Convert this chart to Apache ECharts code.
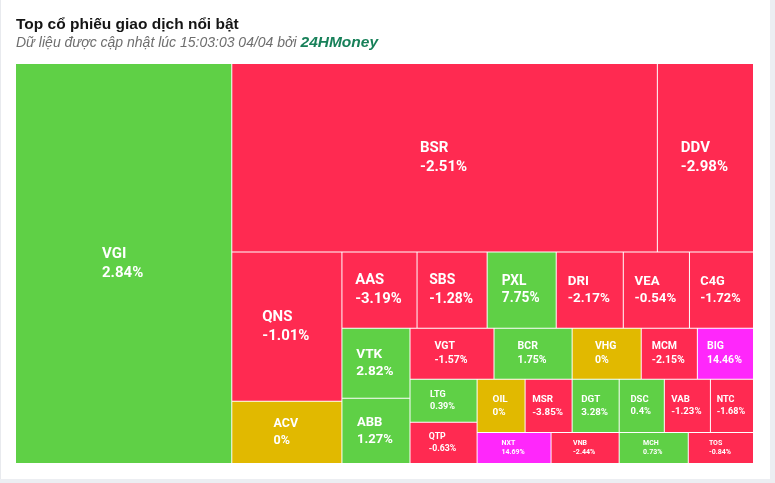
<!DOCTYPE html>
<html>
<head>
<meta charset="utf-8">
<script src="https://cdn.jsdelivr.net/npm/echarts@6/dist/echarts.min.js"></script>
<style>
html,body{margin:0;padding:0;background:#eceef2;overflow:hidden;}
#card{position:absolute;left:0;top:0;width:769px;height:479px;background:#fff;border-left:1px solid #e8eaee;}
#chart{position:absolute;left:0;top:0;width:775px;height:483px;}
</style>
</head>
<body>
<div id="card"></div>
<div id="chart"></div>
<script>
// ---- data ----
const titleText = 'Top cổ phiếu giao dịch nổi bật';
const subtitleText = 'Dữ liệu được cập nhật lúc 15:03:03 04/04 bởi ';
const sourceText = '24HMoney';

const tickers = ['VGI','BSR','DDV','QNS','ACV','AAS','SBS','PXL','DRI','VEA','C4G','VTK','ABB','VGT','BCR','VHG','MCM','BIG','LTG','QTP','OIL','MSR','DGT','DSC','VAB','NTC','NXT','VNB','MCH','TOS'];
const changes = [2.84,-2.51,-2.98,-1.01,0,-3.19,-1.28,7.75,-2.17,-0.54,-1.72,2.82,1.27,-1.57,1.75,0,-2.15,14.46,0.39,-0.63,0,-3.85,3.28,0.4,-1.23,-1.68,14.69,-2.44,0.73,-0.84];
const values = [861.8,799.0,180.5,163.9,68.2,57.0,53.2,52.4,50.9,50.2,48.6,47.6,44.2,42.8,39.8,35.2,28.6,28.6,28.8,27.5,25.4,24.9,24.9,23.9,24.4,22.8,22.9,21.1,21.4,20.2];
// strips of the alternating slice layout (column, row, column, row, ...)
const strips = [
  ['VGI'],
  ['BSR','DDV'],
  ['QNS','ACV'],
  ['AAS','SBS','PXL','DRI','VEA','C4G'],
  ['VTK','ABB'],
  ['VGT','BCR','VHG','MCM','BIG'],
  ['LTG','QTP'],
  ['OIL','MSR','DGT','DSC','VAB','NTC'],
  ['NXT','VNB','MCH','TOS']
];

// ---- styling ----
const COLORS = {up:'#5fd046', down:'#ff2a51', flat:'#e1b900', ceil:'#ff27fb'};
function colorOf(c){ if (c >= 14) return COLORS.ceil; if (c > 0) return COLORS.up; if (c < 0) return COLORS.down; return COLORS.flat; }
function pctText(c){ return String(c) + '%'; }

const ctx = document.createElement('canvas').getContext('2d');
function textW(s, fs){ ctx.font = 'bold ' + fs + 'px Roboto'; return ctx.measureText(s).width; }

const EPS = 1e-6;
let gapId = 0;

function makeData(sizes){
  gapId = 0;
  function gap(){
    return {name:'_g' + (gapId++), value:EPS, label:{show:false}, itemStyle:{color:'rgba(0,0,0,0)'}};
  }
  function leaf(t){
    const i = tickers.indexOf(t);
    const node = {name:t, value:values[i], itemStyle:{color:colorOf(changes[i])}};
    const sz = sizes && sizes[t];
    if (sz){
      const m = Math.min(sz.w, sz.h);
      const fs = Math.max(7, Math.min(15, 0.18 * m + 1.5));
      const lh = fs * 1.3;
      const W = Math.max(textW(t, fs), textW(pctText(changes[i]), fs)) + 2;
      const pl = Math.max(0, (sz.w - W) / 2);
      const pt = Math.max(0, (sz.h - 2 * lh) / 2);
      node.label = {
        position:'insideTopLeft', fontSize:fs, lineHeight:lh,
        padding:[pt, 0, Math.max(0, pt - 2), pl]
      };
    }
    return node;
  }
  function stripNode(s){
    if (s.length === 1) return leaf(s[0]);
    const ch = [];
    s.forEach(function(t, k){ if (k) ch.push(gap()); ch.push(leaf(t)); });
    return {name:'', children:ch};
  }
  function build(k){
    if (k === strips.length - 1) return stripNode(strips[k]);
    const s = stripNode(strips[k]);
    const rest = build(k + 1);
    return (k % 2 === 0) ? {name:'', children:[s, gap(), rest]} : {name:'', children:[s, rest]};
  }
  return build(0).children;
}

function makeOption(sizes){
  return {
    animation:false,
    title:[
      {text:titleText, left:16, top:17, padding:0,
       textStyle:{fontFamily:'Liberation Sans', fontSize:15.5, fontWeight:'bold', color:'#151515'}},
      {text:'{a|' + subtitleText + '}{b|' + sourceText + '}', left:16, top:35, padding:0,
       textStyle:{fontWeight:'normal', rich:{
         a:{fontFamily:'Liberation Sans', fontStyle:'italic', fontWeight:'normal', fontSize:14, color:'#6e6e6e'},
         b:{fontFamily:'Liberation Sans', fontStyle:'italic', fontWeight:'bold', fontSize:15.5, color:'#178059'}
       }}}
    ],
    series:[{
      type:'treemap',
      left:16, top:64, width:737, height:399,
      sort:false,
      squareRatio:20,
      roam:false,
      nodeClick:false,
      breadcrumb:{show:false},
      itemStyle:{borderWidth:0, gapWidth:1, borderColor:'#ffffff'},
      label:{
        show:true, position:'inside', color:'#fff', fontFamily:'Roboto', fontWeight:'bold',
        fontSize:12, overflow:'none', align:'left',
        formatter:function(p){ const i = tickers.indexOf(p.name); return i < 0 ? '' : p.name + '\n' + pctText(changes[i]); }
      },
      upperLabel:{show:false},
      emphasis:{disabled:true},
      data:makeData(sizes)
    }]
  };
}

const chart = echarts.init(document.getElementById('chart'), null, {renderer:'canvas'});
chart.setOption(makeOption(null));
let sizes = {};
try {
  const data = chart.getModel().getSeriesByIndex(0).getData();
  for (let i = 0; i < data.count(); i++){
    const nm = data.getName(i);
    const l = data.getItemLayout(i);
    if (l && tickers.indexOf(nm) >= 0) sizes[nm] = {w:l.width, h:l.height};
  }
} catch(e) { sizes = null; }
chart.setOption(makeOption(sizes), true);
</script>
</body>
</html>
